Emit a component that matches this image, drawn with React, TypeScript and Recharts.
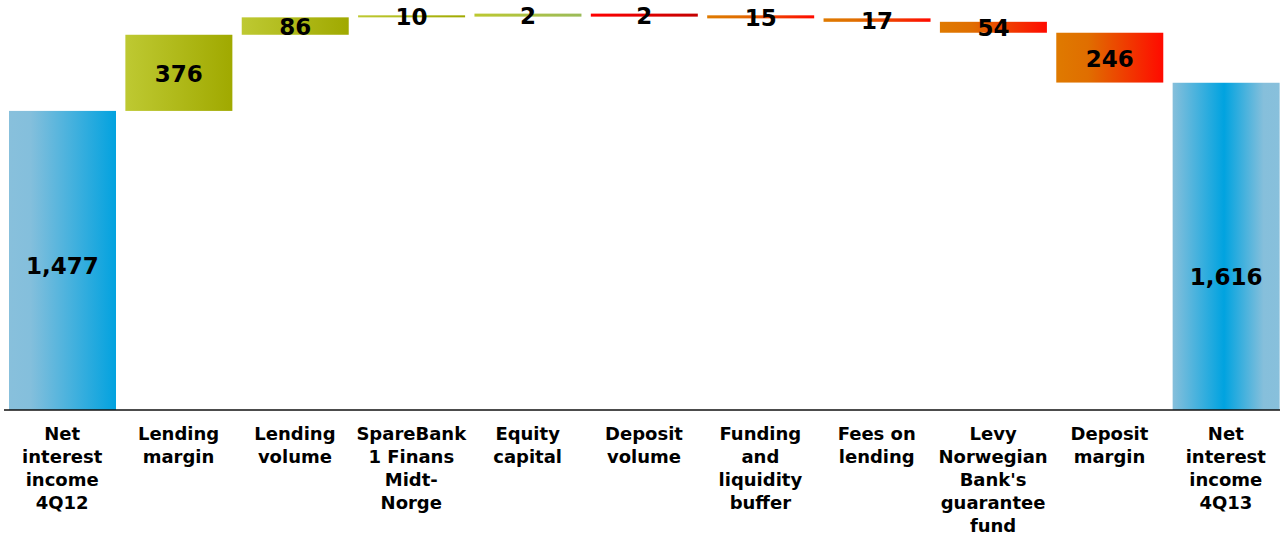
import React from "react";
import { BarChart, Bar, XAxis, YAxis, LabelList } from "recharts";

const categories: string[] = [
  "Net\ninterest\nincome\n4Q12",
  "Lending\nmargin",
  "Lending\nvolume",
  "SpareBank\n1 Finans\nMidt-\nNorge",
  "Equity\ncapital",
  "Deposit\nvolume",
  "Funding\nand\nliquidity\nbuffer",
  "Fees on\nlending",
  "Levy\nNorwegian\nBank's\nguarantee\nfund",
  "Deposit\nmargin",
  "Net\ninterest\nincome\n4Q13",
];

const changes: number[] = [1477, 376, 86, 10, 2, -2, -15, -17, -54, -246, 1616];
const isTotal: boolean[] = [true, false, false, false, false, false, false, false, false, false, true];

const barGradients: string[] = [
  "gStart", "gPos", "gPos", "gPos", "gEquity", "gDepVol", "gNeg", "gNeg", "gNeg", "gNeg", "gEnd",
];
const labelRatio: number[] = [0.515, 0.5, 0.5, 0.5, 0.5, 0.5, 0.5, 0.5, 0.5, 0.5, 0.59];

function buildData() {
  let running = 0;
  return categories.map((name, i) => {
    const v = changes[i];
    let range: [number, number];
    if (isTotal[i]) {
      range = [0, v];
      running = v;
    } else {
      const next = running + v;
      range = [Math.min(running, next), Math.max(running, next)];
      running = next;
    }
    return { name, range, value: Math.abs(v), idx: i };
  });
}

const data = buildData();

const FONT = "'DejaVu Sans', Verdana, sans-serif";

const BarShape = (props: any) => {
  const { x, y, width, height, index } = props;
  let h = Math.abs(height);
  let top = Math.min(y, y + height);
  if (h < 1.5) {
    top = top + h / 2 - 1.5;
    h = 3;
  }
  return <rect x={x} y={top} width={width} height={h} fill={`url(#${barGradients[index]})`} />;
};

const renderLabel = (props: any) => {
  const { x, y, width, height, value, index } = props;
  const top = Math.min(y, y + height);
  const h = Math.abs(height);
  const cy = top + h * labelRatio[index] + 1;
  return (
    <text
      x={x + width / 2}
      y={cy}
      textAnchor="middle"
      dominantBaseline="central"
      fontFamily={FONT}
      fontWeight="bold"
      fontSize={23}
      fill="#000"
    >
      {Number(value).toLocaleString("en-US")}
    </text>
  );
};

const Tick = (props: any) => {
  const { x, y, payload } = props;
  const lines = String(payload.value).split("\n");
  return (
    <text
      x={x}
      y={y}
      textAnchor="middle"
      fontFamily={FONT}
      fontWeight="bold"
      fontSize={18}
      fill="#000"
    >
      {lines.map((l, i) => (
        <tspan key={i} x={x} dy={i === 0 ? 22 : 23}>
          {l}
        </tspan>
      ))}
    </text>
  );
};

export default function App() {
  return (
    <div
      style={{
        position: "fixed",
        left: 0,
        top: 0,
        width: 1280,
        height: 536,
        overflow: "hidden",
        background: "#fff",
      }}
    >
      <div style={{ marginLeft: 4 }}>
        <BarChart
          width={1280}
          height={536}
          data={data}
          margin={{ top: 5, right: 0, bottom: 0, left: 0 }}
          barSize={107}
        >
          <defs>
            <linearGradient id="gStart" x1="0" y1="0" x2="1" y2="0">
              <stop offset="0" stopColor="#88C0DC" />
              <stop offset="0.2" stopColor="#84BFDC" />
              <stop offset="1" stopColor="#02A2DF" />
            </linearGradient>
            <linearGradient id="gEnd" x1="0" y1="0" x2="1" y2="0">
              <stop offset="0" stopColor="#86BFDB" />
              <stop offset="0.48" stopColor="#00A3E0" />
              <stop offset="0.85" stopColor="#86BFDB" />
              <stop offset="1" stopColor="#88C0DC" />
            </linearGradient>
            <linearGradient id="gPos" x1="0" y1="0" x2="1" y2="0">
              <stop offset="0" stopColor="#BEC932" />
              <stop offset="1" stopColor="#A0A900" />
            </linearGradient>
            <linearGradient id="gEquity" x1="0" y1="0" x2="1" y2="0">
              <stop offset="0" stopColor="#BCC830" />
              <stop offset="1" stopColor="#9BBB59" />
            </linearGradient>
            <linearGradient id="gDepVol" x1="0" y1="0" x2="1" y2="0">
              <stop offset="0" stopColor="#FF0000" />
              <stop offset="1" stopColor="#C40000" />
            </linearGradient>
            <linearGradient id="gNeg" x1="0" y1="0" x2="1" y2="0">
              <stop offset="0" stopColor="#DF7A00" />
              <stop offset="0.3" stopColor="#E06E00" />
              <stop offset="1" stopColor="#FF0A00" />
            </linearGradient>
          </defs>
          <XAxis
            dataKey="name"
            interval={0}
            tickLine={false}
            axisLine={{ stroke: "#111", strokeWidth: 1.5 }}
            height={126}
            tick={<Tick />}
          />
          <YAxis hide domain={[0, 2000]} />
          <Bar dataKey="range" isAnimationActive={false} shape={<BarShape />}>
            <LabelList dataKey="value" content={renderLabel} />
          </Bar>
        </BarChart>
      </div>
    </div>
  );
}
